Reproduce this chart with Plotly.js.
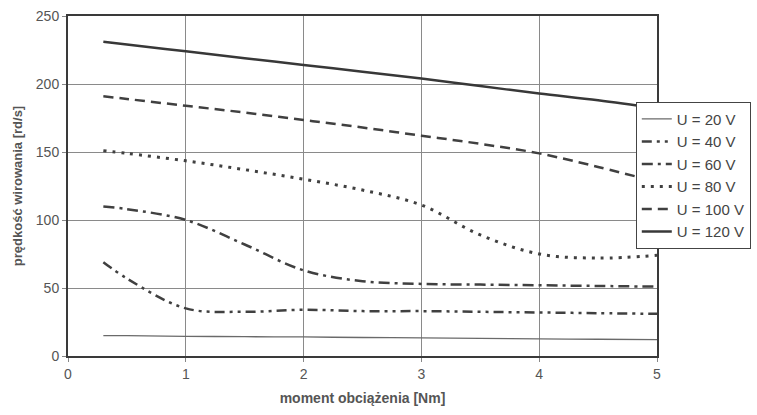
<!DOCTYPE html>
<html>
<head>
<meta charset="utf-8">
<script src="https://cdn.plot.ly/plotly-3.0.1.min.js"></script>
<style>html,body{margin:0;padding:0;background:#fff;}#chart{width:757px;height:415px;}</style>
</head>
<body>
<div id="chart"></div>
<script>
const torque = [0.3, 0.5, 1, 1.5, 2, 2.5, 3, 3.5, 4, 4.5, 5];
const seriesNames = ["U = 20 V", "U = 40 V", "U = 60 V", "U = 80 V", "U = 100 V", "U = 120 V"];
const u20  = [15, 15, 14.5, 14.2, 14, 13.6, 13.3, 13, 12.6, 12.3, 12];
const u40  = [69, 57, 35, 32.5, 34, 33, 33, 32.5, 32, 31.5, 31];
const u60  = [110, 108, 100, 82, 63, 55, 53, 52.5, 52, 51.5, 51];
const u80  = [151, 149, 143.5, 137, 130, 122, 111, 89, 75, 72, 74];
const u100 = [191, 189, 184, 179, 173.5, 168, 162, 156, 149, 139, 128];
const u120 = [231, 229, 224, 219, 214, 209, 204, 198.5, 193, 188, 182];
const xTicks = [0, 1, 2, 3, 4, 5];
const yTicks = [0, 50, 100, 150, 200, 250];

const values = [u20, u40, u60, u80, u100, u120];
const styles = [
  {color: "#6a6a6a", width: 1.3, dash: "solid"},
  {color: "#404040", width: 2.5, dash: "10px,5px,3px,5px,3px,5px"},
  {color: "#404040", width: 2.5, dash: "11px,5px,3px,5px"},
  {color: "#404040", width: 3, dash: "3px,6px"},
  {color: "#404040", width: 2.5, dash: "10px,6px"},
  {color: "#383838", width: 2.5, dash: "solid"}
];

const traces = values.map((v, i) => ({
  x: torque,
  y: v,
  name: seriesNames[i],
  legendgroup: "g" + i,
  type: "scatter",
  mode: "lines",
  line: Object.assign({shape: "spline", smoothing: 1}, styles[i])
}));

const font = "Liberation Sans, Arial, sans-serif";
const layout = {
  width: 757,
  height: 415,
  margin: {l: 68, r: 100, t: 16, b: 59, autoexpand: false},
  paper_bgcolor: "#fff",
  plot_bgcolor: "#fff",
  font: {family: font, size: 13, color: "#555"},
  showlegend: true,
  legend: {
    x: 0.964, y: 0.748, xanchor: "left", yanchor: "top",
    bgcolor: "#fff", bordercolor: "#444", borderwidth: 1,
    font: {family: font, size: 15, color: "#444"},
    tracegroupgap: 3,
    traceorder: "normal"
  },
  xaxis: {
    range: [0, 5],
    tickvals: xTicks,
    ticktext: xTicks.map(String),
    showgrid: true, gridcolor: "#8a8a8a", gridwidth: 1,
    zeroline: false,
    showline: true, linecolor: "#3a3a3a", linewidth: 2, mirror: true,
    ticks: "outside", ticklen: 4, tickcolor: "#888",
    tickfont: {family: font, size: 14, color: "#555"},
    title: {text: "moment obciążenia [Nm]", font: {family: font, size: 14, color: "#555", weight: "bold"}, standoff: 12}
  },
  yaxis: {
    range: [0, 250],
    tickvals: yTicks,
    ticktext: yTicks.map(String),
    showgrid: true, gridcolor: "#8a8a8a", gridwidth: 1,
    zeroline: false,
    showline: true, linecolor: "#3a3a3a", linewidth: 2, mirror: true,
    ticks: "outside", ticklen: 4, tickcolor: "#888",
    tickfont: {family: font, size: 14, color: "#555"},
    title: {text: "prędkość wirowania [rd/s]", font: {family: font, size: 13, color: "#555", weight: "bold"}, standoff: 10}
  }
};

Plotly.newPlot("chart", traces, layout, {staticPlot: true, displayModeBar: false});
</script>
</body>
</html>
